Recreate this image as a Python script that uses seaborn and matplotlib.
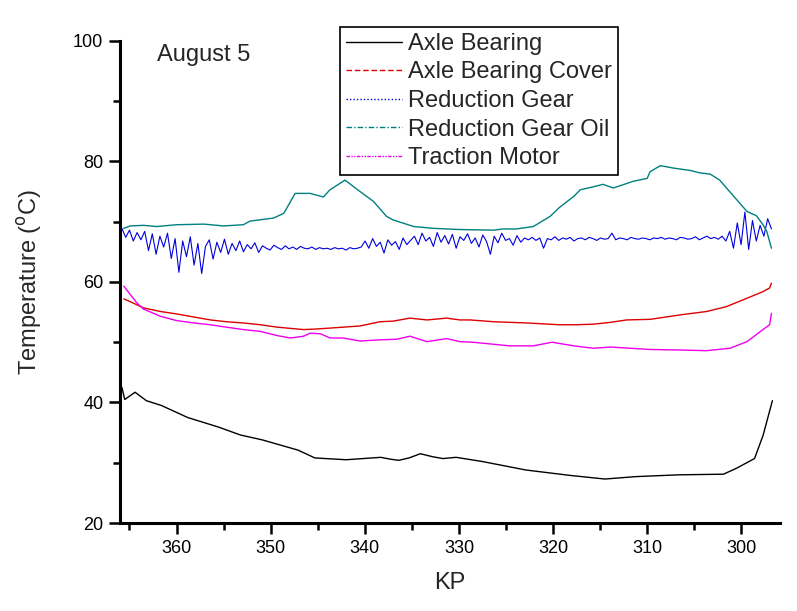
import numpy as np
import pandas as pd
import matplotlib
matplotlib.use("Agg")
import matplotlib.pyplot as plt
import seaborn as sns
from matplotlib.lines import Line2D
from matplotlib.ticker import MultipleLocator

sns.set_theme(style="ticks")
plt.rcParams["font.family"] = ["Liberation Sans", "DejaVu Sans"]

series_names = ["Axle Bearing", "Axle Bearing Cover", "Reduction Gear",
                "Reduction Gear Oil", "Traction Motor"]
series_colors = ["#000000", "#dd0000", "#0000dd", "#008080", "#ee00ee"]

# Axle Bearing
axle_km = [365.8, 365.5, 364.4, 363.2, 361.6, 358.8, 355.5, 353.2, 350.9, 347.1,
           345.3, 342.0, 338.3, 337.3, 336.4, 335.3, 334.1, 332.8, 331.7, 330.3,
           327.5, 322.9, 318.2, 314.5, 311.2, 306.6, 301.9, 300.5, 298.6, 297.7, 296.7]
axle_temp = [42.5, 40.5, 41.7, 40.3, 39.5, 37.5, 35.9, 34.6, 33.8, 32.1,
             30.8, 30.5, 30.9, 30.6, 30.4, 30.8, 31.5, 31.0, 30.7, 30.9,
             30.2, 28.8, 27.9, 27.3, 27.7, 28.0, 28.1, 29.1, 30.7, 34.5, 40.3]

# Axle Bearing Cover
cover_km = [365.6, 364.6, 363.5, 361.7, 360.0, 358.2, 356.4, 354.7, 352.9, 351.1,
            349.3, 346.5, 345.1, 342.3, 340.5, 338.4, 337.0, 335.2, 333.4, 331.3,
            329.9, 328.8, 326.3, 322.8, 319.3, 317.5, 315.7, 313.9, 312.2, 309.7,
            306.2, 303.7, 301.6, 299.4, 297.7, 297.0, 296.8]
cover_temp = [57.2, 56.5, 55.7, 55.1, 54.7, 54.2, 53.7, 53.4, 53.2, 52.9,
              52.5, 52.1, 52.2, 52.5, 52.7, 53.4, 53.5, 54.0, 53.7, 54.0,
              53.7, 53.7, 53.4, 53.2, 52.9, 52.9, 53.0, 53.3, 53.7, 53.8,
              54.6, 55.1, 55.9, 57.3, 58.4, 59.0, 59.8]

# Reduction Gear (noisy), sampled evenly from 365.8 to 296.8 km
gear_temp = [68.9, 67.4, 68.6, 66.8, 68.2, 67.0, 68.4,
             65.2, 68.0, 64.6, 67.6, 65.8, 68.1, 63.9, 67.2, 61.6, 66.8, 64.2,
             67.5, 62.8, 66.4, 61.4, 65.9, 67.0, 63.8, 66.6, 64.9, 67.1, 64.6,
             66.4, 65.2, 66.8, 65.0, 66.2, 65.5, 66.5, 64.9, 66.0, 65.6, 65.3,
             66.1, 65.7, 65.4, 66.0, 65.5, 65.8, 65.4, 65.9, 65.6, 65.5, 65.8,
             65.4, 65.7, 65.5, 65.6, 65.4, 65.7, 65.5, 65.6, 65.3, 65.7, 65.5,
             65.6, 65.8,
             66.8, 65.6, 67.2, 65.9, 66.6, 64.8, 67.0, 66.1, 66.7, 65.4, 67.3,
             66.2, 66.9,
             67.6, 66.2, 68.1, 66.8, 67.4, 65.9, 68.2, 66.6, 67.7, 66.3, 67.9,
             65.6, 67.5, 66.9, 68.0, 66.4, 67.3, 65.8, 67.8, 66.7, 64.6, 67.6,
             66.5, 68.1, 66.9, 67.2, 66.1, 67.7, 66.6, 67.3,
             67.0, 67.4, 66.9, 67.3, 65.6, 67.2, 67.0, 67.5, 66.9, 67.3, 67.1,
             67.4, 66.8, 67.2, 67.3, 67.0, 67.4, 67.2, 66.9, 67.3, 67.1, 67.2,
             68.1, 67.0, 67.3, 67.2, 67.0, 67.4, 67.2, 67.1, 67.3, 67.2, 67.0,
             67.3, 67.2, 67.4, 67.1, 67.3, 67.2, 67.0, 67.4, 67.3, 67.1, 67.2,
             67.5, 67.0, 67.3, 67.6, 67.2, 67.4, 67.1, 67.6,
             66.8, 68.4, 65.6, 69.8, 66.2, 71.6, 65.4, 70.2, 66.8, 69.4, 67.6,
             70.5, 68.8]
gear_km_start, gear_km_end = 365.8, 296.8

# Reduction Gear Oil
oil_km = [365.6, 364.9, 363.5, 362.1, 360.0, 357.1, 355.0, 352.9, 352.2, 349.7,
          348.6, 347.4, 345.8, 344.4, 343.7, 342.1, 340.5, 339.1, 337.7, 337.0,
          334.8, 332.7, 329.9, 326.3, 325.3, 323.9, 322.1, 320.3, 319.3, 317.8,
          317.1, 315.7, 314.7, 313.6, 311.5, 310.0, 309.7, 308.6, 307.2, 305.4,
          304.4, 303.3, 302.3, 300.8, 299.4, 298.4, 297.7, 297.3, 296.8]
oil_temp = [68.9, 69.3, 69.4, 69.2, 69.5, 69.6, 69.3, 69.5, 70.1, 70.6,
            71.4, 74.7, 74.7, 74.1, 75.3, 76.9, 75.0, 73.4, 70.9, 70.3,
            69.2, 68.9, 68.7, 68.6, 68.8, 68.8, 69.2, 70.9, 72.4, 74.2,
            75.3, 75.8, 76.2, 75.6, 76.7, 77.2, 78.3, 79.3, 78.9, 78.5,
            78.1, 77.9, 76.9, 74.2, 71.7, 71.0, 69.5, 68.4, 65.6]

# Traction Motor
motor_km = [365.6, 364.9, 364.2, 363.5, 361.7, 360.0, 358.2, 356.4, 354.7, 352.9,
            351.1, 349.3, 347.9, 346.5, 345.8, 344.7, 343.7, 342.3, 340.5, 338.4,
            336.6, 335.2, 333.4, 331.3, 329.9, 328.5, 324.6, 322.1, 320.1, 317.8,
            315.7, 313.9, 309.7, 306.2, 303.7, 301.2, 299.4, 297.7, 297.0, 296.8]
motor_temp = [59.3, 57.9, 56.5, 55.5, 54.3, 53.6, 53.2, 52.9, 52.5, 52.1,
              51.8, 51.1, 50.7, 51.0, 51.5, 51.4, 50.7, 50.7, 50.2, 50.4,
              50.5, 51.0, 50.1, 50.6, 50.1, 50.0, 49.4, 49.4, 50.0, 49.4,
              49.0, 49.2, 48.8, 48.7, 48.6, 49.0, 50.1, 52.1, 52.9, 54.8]

y_ticks = [20, 40, 60, 80, 100]
x_ticks = [360, 350, 340, 330, 320, 310, 300]

gear_km = np.linspace(gear_km_start, gear_km_end, len(gear_temp))
frames = []
for name, km, t in zip(series_names,
                       [axle_km, cover_km, gear_km, oil_km, motor_km],
                       [axle_temp, cover_temp, gear_temp, oil_temp, motor_temp]):
    frames.append(pd.DataFrame({"KP": km, "Temp": t, "Series": name}))
df = pd.concat(frames, ignore_index=True)

fig = plt.figure(figsize=(7.97, 6.11), dpi=100)
ax = fig.add_axes([0.1506, 0.144, 0.828, 0.789])

line_widths = [1.0, 1.0, 0.8, 1.0, 1.0]
for name, color, lw in zip(series_names, series_colors, line_widths):
    sub = df[df["Series"] == name]
    sns.lineplot(data=sub, x="KP", y="Temp", sort=False, estimator=None,
                 color=color, linewidth=lw, ax=ax, legend=False)

ax.set_xlim(366.0, 295.9)
ax.set_ylim(20, 100)
ax.set_xticks(x_ticks)
ax.set_yticks(y_ticks)
ax.xaxis.set_minor_locator(MultipleLocator(5))
ax.yaxis.set_minor_locator(MultipleLocator(10))
ax.tick_params(which="major", direction="out", length=8, width=1.8,
               labelsize=13, pad=4, color="black", labelcolor="black")
ax.tick_params(which="minor", direction="out", length=5, width=1.8, color="black")
for s in ["top", "right"]:
    ax.spines[s].set_visible(False)
for s in ["left", "bottom"]:
    ax.spines[s].set_linewidth(2.2)
    ax.spines[s].set_color("black")

ax.set_xlabel("KP", fontsize=17, labelpad=11)
ax.set_ylabel("Temperature ($^{\\mathrm{o}}$C)", fontsize=17, labelpad=21)

ax.text(0.056, 0.971, "August 5", transform=ax.transAxes, va="center",
        ha="left", fontsize=17)

handle_styles = ["-", (0, (4, 2)), (0, (1, 1.5)), (0, (4, 1.5, 1, 1.5)),
                 (0, (2.5, 1, 1, 1, 1, 1))]
handles = [Line2D([0], [0], color=c, linestyle=ls, linewidth=1.0)
           for c, ls in zip(series_colors, handle_styles)]
leg = ax.legend(handles, series_names, loc="upper left",
                bbox_to_anchor=(0.333, 1.029), borderaxespad=0,
                fontsize=17, frameon=True, fancybox=False, framealpha=1,
                edgecolor="black", handlelength=2.4, handletextpad=0.25,
                labelspacing=0.28, borderpad=0.25)
leg.get_frame().set_linewidth(1.2)

fig.savefig("out.png", dpi=100)
